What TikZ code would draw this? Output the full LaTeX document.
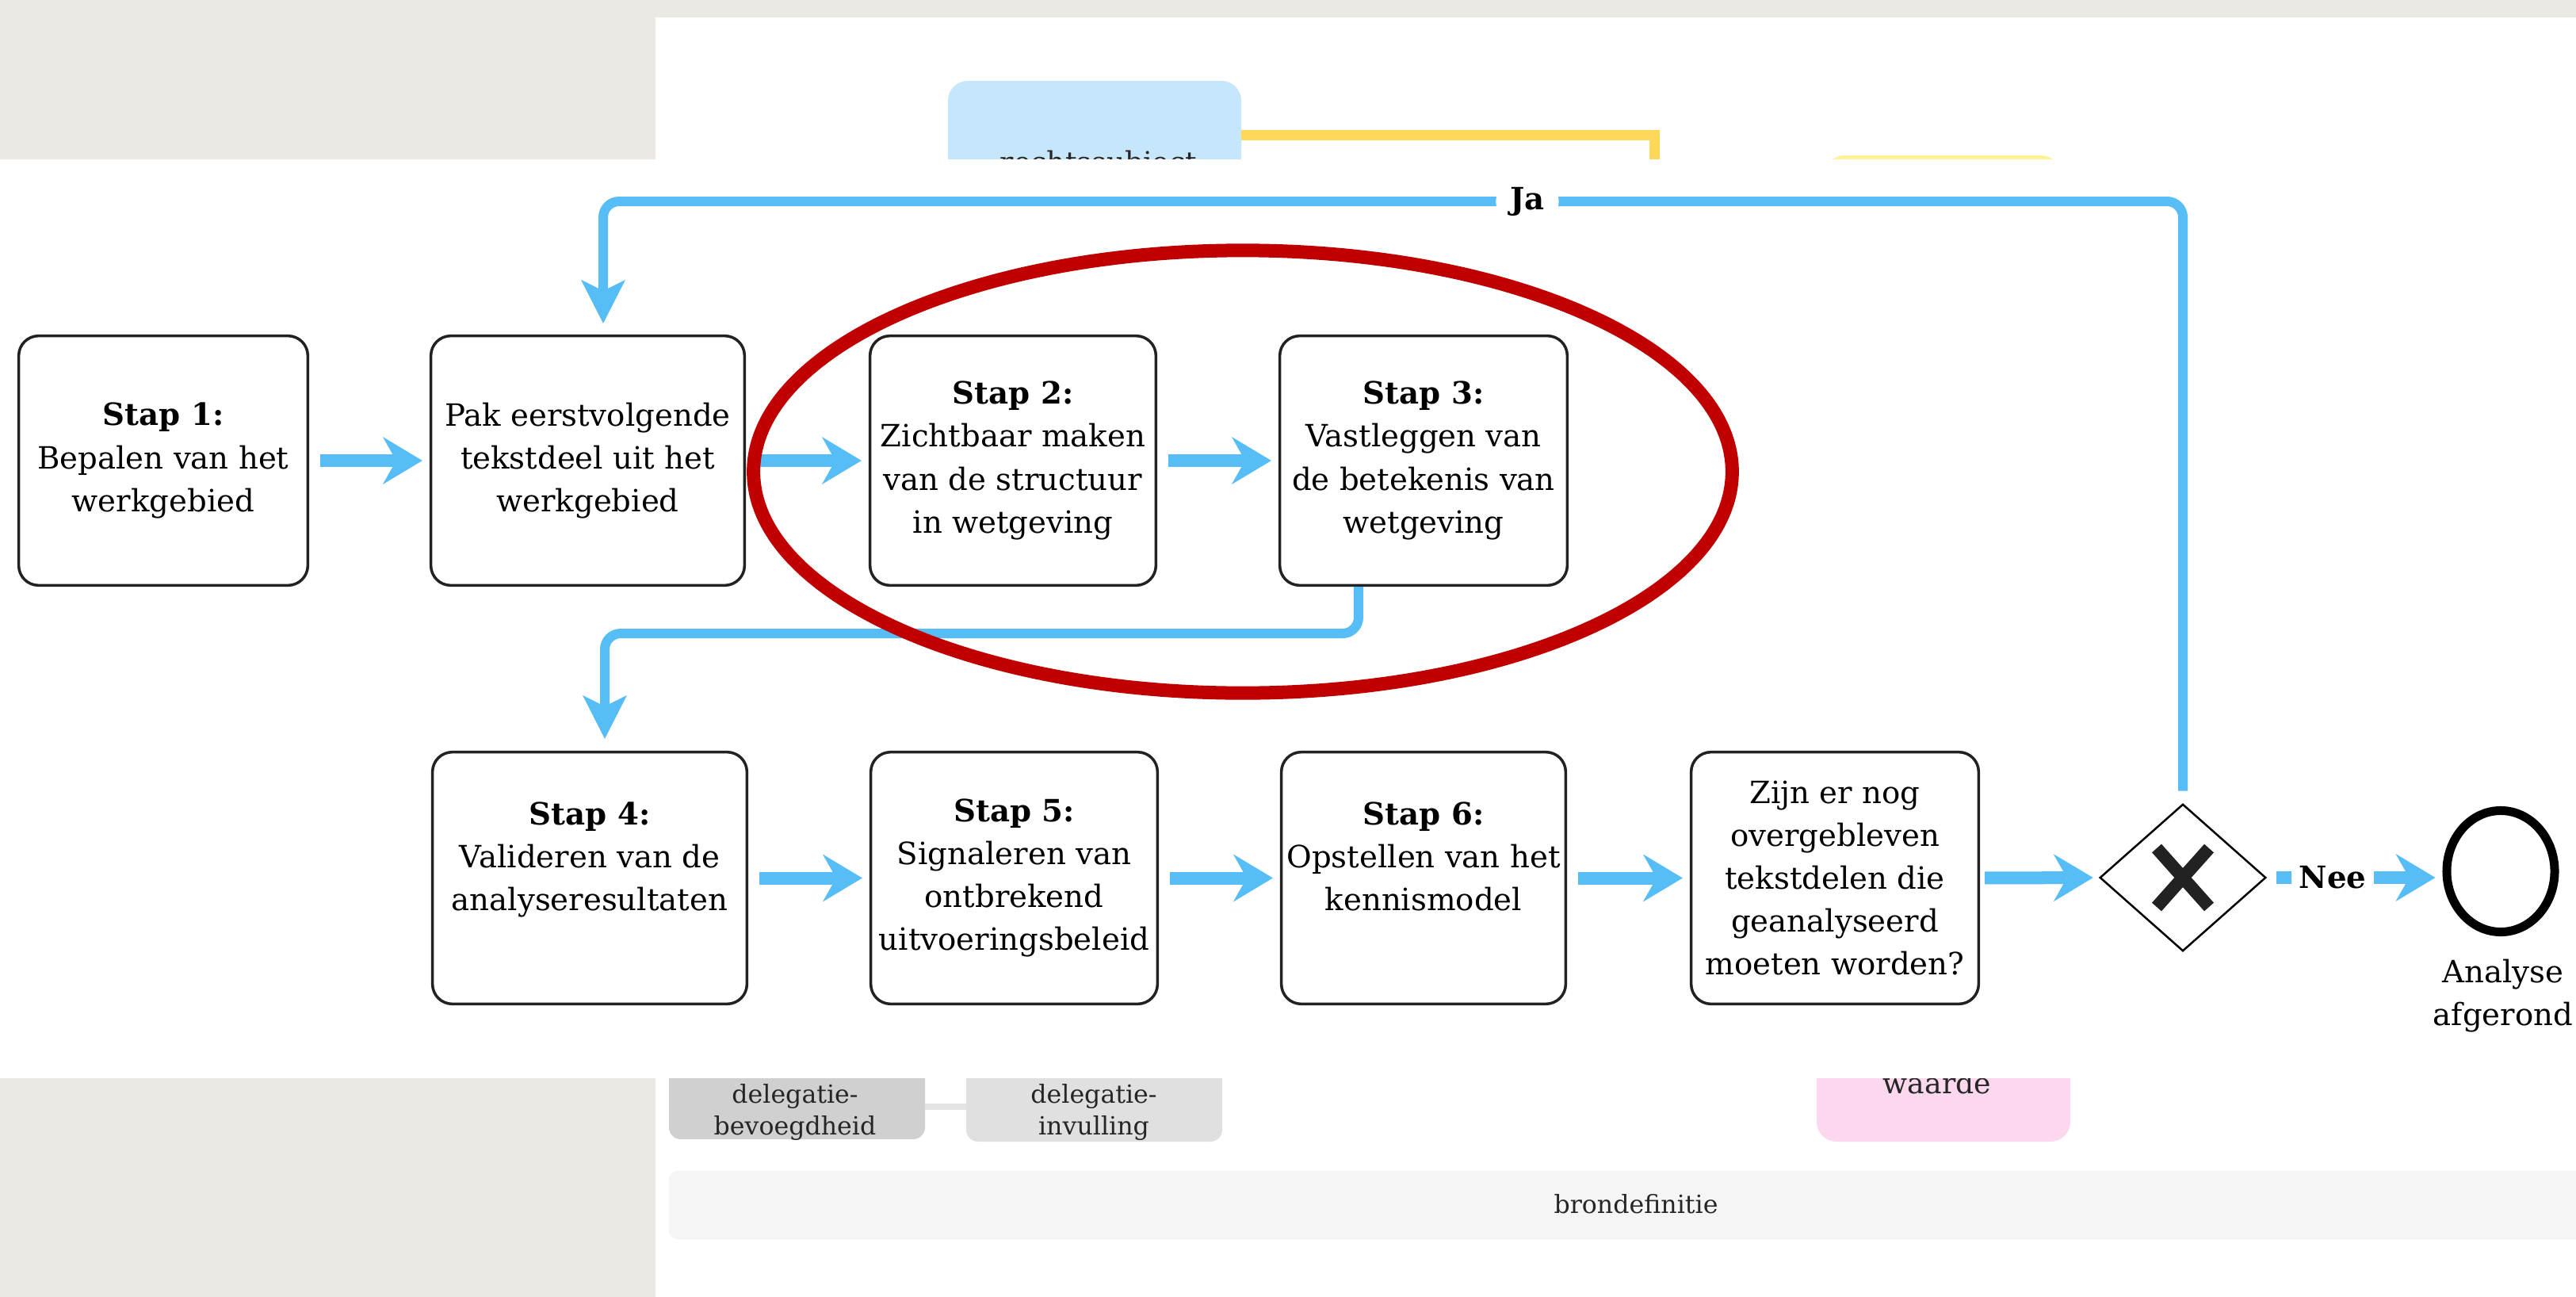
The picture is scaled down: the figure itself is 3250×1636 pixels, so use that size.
\documentclass[tikz,border=0pt]{standalone}
\usepackage{fontspec}
\setmainfont{DejaVu Serif}
\usetikzlibrary{arrows.meta,shapes.geometric}
\definecolor{flowblue}{RGB}{86,189,246}
\definecolor{beige}{RGB}{236,233,228}
\definecolor{boxline}{RGB}{34,34,34}
\definecolor{markred}{RGB}{192,0,0}
\definecolor{bgblue}{RGB}{197,230,251}
\definecolor{bgyellowline}{RGB}{255,215,90}
\definecolor{bgyellow}{RGB}{255,241,150}
\definecolor{bggraydark}{RGB}{208,208,208}
\definecolor{bggraylight}{RGB}{224,224,224}
\definecolor{bgconn}{RGB}{228,228,228}
\definecolor{bgpink}{RGB}{252,216,238}
\definecolor{bgstrip}{RGB}{245,245,245}
\newcommand\bxfont{\fontsize{11}{15.4}\selectfont}
\newcommand\bgfont{\fontsize{9}{11.4}\selectfont}
\newcommand\bgfontb{\fontsize{10.3}{12.5}\selectfont}
\begin{document}
\begin{tikzpicture}[x=0.01cm,y=-0.01cm,
  stepbox/.style={draw=boxline, line width=0.035cm, rounded corners=0.25cm, fill=white,
    align=center, inner sep=0pt, font=\bxfont},
  flow/.style={draw=flowblue, line width=0.16cm,
    -{Stealth[length=0.5cm, width=0.6cm, inset=0.17cm, line width=0pt]},
    shorten <=0.14cm, shorten >=0.09cm},
  loopline/.style={draw=flowblue, line width=0.12cm, rounded corners=0.2cm,
    -{Stealth[length=0.55cm, width=0.56cm, inset=0.14cm, line width=0pt]}},
  lbl/.style={font=\bxfont\bfseries, fill=white, inner ysep=0.02cm},
  bgtext/.style={font=\bgfont, align=center, inner sep=0pt, text=black!85}
]
\useasboundingbox (0,0) rectangle (3250,1636);
\fill[white] (0,0) rectangle (3250,1636);
% beige margins of the screenshot
\fill[beige] (0,0) rectangle (3250,22);
\fill[beige] (0,0) rectangle (827,201);
\fill[beige] (0,1360) rectangle (827,1636);

% faded background diagram (behind the overlay)
\fill[bgblue, rounded corners=0.25cm] (1196,102) rectangle (1566,320);
\node[font=\bgfontb, inner sep=0pt, text=black!85] (bgsubj) at (1386,208) {rechtssubject};
\draw[bgyellowline, line width=0.13cm] (1566,170) -- (2087,170) -- (2087,280);
\fill[bgyellow, rounded corners=0.25cm] (2302,196) rectangle (2600,320);

\fill[bggraydark, rounded corners=0.15cm] (844,1280) rectangle (1167,1437);
\fill[bggraylight, rounded corners=0.15cm] (1219,1280) rectangle (1542,1440);
\draw[bgconn, line width=0.08cm] (1167,1396) -- (1219,1396);
\node[bgtext] (bgdelb) at (1003,1403) {delegatie-\\bevoegdheid};
\node[bgtext] (bgdeli) at (1380,1403) {delegatie-\\invulling};
\fill[bgpink, rounded corners=0.25cm] (2292,1280) rectangle (2612,1440);
\node[font=\bgfontb, inner sep=0pt, text=black!85] (bgwaarde) at (2444,1366) {waarde};
\fill[bgstrip, rounded corners=0.1cm] (844,1477) rectangle (3300,1563);
\node[bgtext] (bgbron) at (2064,1519) {brondefinitie};

% white overlay with the process diagram
\fill[white] (0,201) rectangle (3250,1360);

% top row
\node[stepbox, minimum width=3.645cm, minimum height=3.145cm] (s1) at (206,581)
  {\textbf{Stap 1:}\\Bepalen van het\\werkgebied};
\node[stepbox, minimum width=3.955cm, minimum height=3.145cm] (pak) at (741.5,581)
  {Pak eerstvolgende\\tekstdeel uit het\\werkgebied};
\node[stepbox, minimum width=3.605cm, minimum height=3.145cm] (s2) at (1278,581)
  {\textbf{Stap 2:}\\Zichtbaar maken\\van de structuur\\in wetgeving};
\node[stepbox, minimum width=3.625cm, minimum height=3.145cm] (s3) at (1796,581)
  {\textbf{Stap 3:}\\Vastleggen van\\de betekenis van\\wetgeving};

% bottom row
\node[stepbox, minimum width=3.965cm, minimum height=3.175cm] (s4) at (744,1107.5)
  {\textbf{Stap 4:}\\Valideren van de\\analyseresultaten\\\mbox{}};
\node[stepbox, minimum width=3.615cm, minimum height=3.175cm] (s5) at (1279.5,1107.5)
  {\textbf{Stap 5:}\\Signaleren van\\ontbrekend\\uitvoeringsbeleid};
\node[stepbox, minimum width=3.585cm, minimum height=3.175cm] (s6) at (1796,1107.5)
  {\textbf{Stap 6:}\\Opstellen van het\\kennismodel\\\mbox{}};
\node[stepbox, minimum width=3.625cm, minimum height=3.175cm] (zijn) at (2315,1107.5)
  {Zijn er nog\\overgebleven\\tekstdelen die\\geanalyseerd\\moeten worden?};

% gateway
\node[minimum width=2.07cm, minimum height=1.83cm, inner sep=0pt] (gw) at (2754,1107) {};
\draw[black, line width=0.025cm, line join=miter] (gw.north) -- (gw.east) -- (gw.south) -- (gw.west) -- cycle;
\draw[boxline, line width=0.16cm] ([shift={(-33,-37)}]gw.center) -- ([shift={(33,37)}]gw.center);
\draw[boxline, line width=0.16cm] ([shift={(33,-37)}]gw.center) -- ([shift={(-33,37)}]gw.center);

% end event
\node[draw=black, line width=0.11cm, ellipse, minimum width=1.36cm, minimum height=1.53cm, inner sep=0pt] (end) at (3155,1099) {};
\node[font=\bxfont, align=center, inner sep=0pt] (endlbl) at (3158,1256) {Analyse\\afgerond};

% sequence flows
\draw[flow] (s1.east) -- (pak.west);
\draw[flow] (pak.west -| pak.east) -- (s2.west);
\draw[flow] (s2.east) -- (s3.west);
\draw[flow] (s4.east) -- (s5.west);
\draw[flow] (s5.east) -- (s6.west);
\draw[flow] (s6.east) -- (zijn.west);
\draw[flow, shorten <=0.06cm] (zijn.east) -- (gw.west);
\draw[flow] (gw.east) -- node[pos=0.38, lbl, inner xsep=0.1cm] (nee) {Nee} (end.west |- gw.east);

\draw[loopline, shorten >=0.15cm] ([xshift=-0.82cm]s3.south) -- ([xshift=-0.82cm]s3.south |- 0,799)
  -- ([xshift=0.19cm]s4.north |- 0,799) -- ([xshift=0.19cm]s4.north);
\draw[loopline, shorten <=0.17cm, shorten >=0.14cm] (gw.north) -- (gw.north |- 0,254)
  -- node[pos=0.415, lbl, inner xsep=0.18cm] (ja) {Ja} ([xshift=0.195cm]pak.north |- 0,254)
  -- ([xshift=0.195cm]pak.north);

% red highlight ellipse
\draw[markred, line width=0.17cm] (1568,595) ellipse [x radius=6.17cm, y radius=2.79cm];
\end{tikzpicture}
\end{document}
